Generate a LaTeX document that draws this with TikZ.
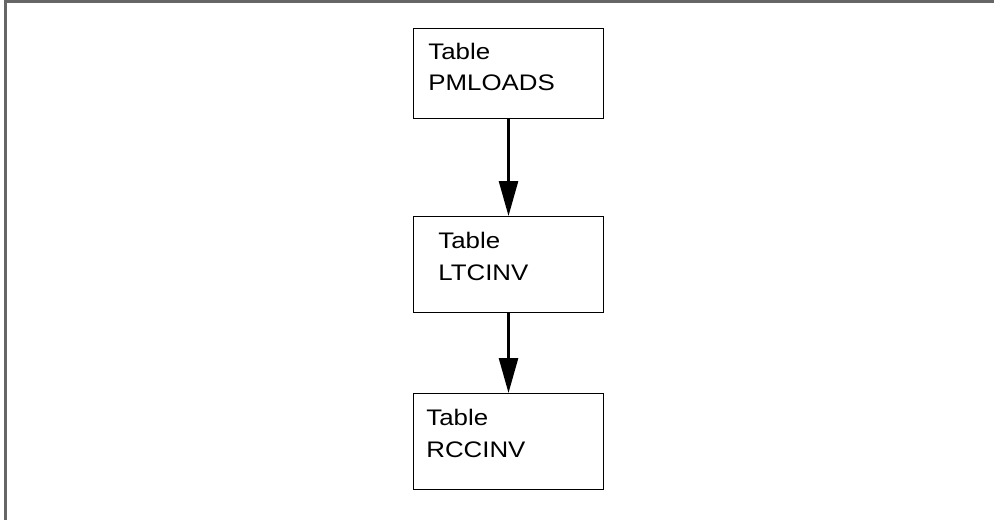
\documentclass[tikz,border=0pt]{standalone}
\usepackage{fontspec}
\setmainfont[FakeStretch=1.15]{Liberation Sans}
\usepackage{tikz}
\usetikzlibrary{
  positioning,
  arrows.meta
}

\begin{document}
\begin{tikzpicture}[
    x=0.02cm, y=-0.02cm,
    tablebox/.style={draw, line width=0.6pt, minimum width=3.8cm, inner sep=0pt},
    tabletext/.style={anchor=base west, align=left, inner sep=0pt,
        font=\fontsize{12.8pt}{18.2pt}\selectfont},
    flow/.style={line width=1.5pt, -{Triangle[length=0.7cm, width=0.38cm]}}
]
    % 边框
    \useasboundingbox (0,0) rectangle (994,520);
    \draw[line width=1.2pt, black!60] (5.5,520) -- (5.5,1.5) -- (994,1.5);

    % 表
    \node[tablebox, minimum height=1.8cm,  anchor=north west] (pmloads) at (413,28) {};
    \node[tablebox, minimum height=1.92cm, anchor=north west] (ltcinv) at (413,216) {};
    \node[tablebox, minimum height=1.92cm, anchor=north west] (rccinv) at (413,393) {};

    % 文字 (base = 第二行)
    \node[tabletext] (pmloadstext) at (428,91) {Table\\PMLOADS};
    \node[tabletext] (ltcinvtext) at (438,280) {Table\\LTCINV};
    \node[tabletext] (rccinvtext) at (426,457) {Table\\RCCINV};

    % 箭头
    \draw[flow] (pmloads) -- (ltcinv);
    \draw[flow] (ltcinv) -- (rccinv);
\end{tikzpicture}
\end{document}
